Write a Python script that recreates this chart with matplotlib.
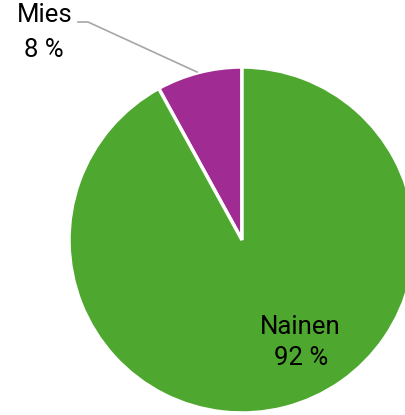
import numpy as np
import matplotlib.pyplot as plt

labels = ["Mies", "Nainen"]
shares = [8, 92]
colors = ["#A02B93", "#4EA72E"]

W, H = 406, 415
cx, cy, r = 242, 240, 173

fig = plt.figure(figsize=(W / 100, H / 100), dpi=100)
ax = fig.add_axes([(cx - r) / W, (H - cy - r) / H, 2 * r / W, 2 * r / H])

wedges, _ = ax.pie(shares, colors=colors, startangle=90, counterclock=True,
                   radius=1, wedgeprops=dict(edgecolor="white", linewidth=2.5))
for w in wedges:
    w.set_clip_on(False)
ax.set_xlim(-1, 1)
ax.set_ylim(-1, 1)
ax.axis("off")


def to_data(px, py):
    return (px - cx) / r, (cy - py) / r


font = dict(family=["Roboto", "DejaVu Sans"], fontsize=18.5, color="#000000")

# Mies label with leader line
lx, ly = zip(*[to_data(78, 22), to_data(88, 22), to_data(197, 72)])
ax.plot(lx, ly, color="#A6A6A6", lw=1.2, clip_on=False)
x, y = to_data(44.5, 22)
ax.text(x, y, labels[0], ha="center", va="baseline", **font)
x, y = to_data(44, 57)
ax.text(x, y, f"{shares[0]} %", ha="center", va="baseline", **font)

# Nainen label
x, y = to_data(300, 334)
ax.text(x, y, labels[1], ha="center", va="baseline", **font)
x, y = to_data(301, 365)
ax.text(x, y, f"{shares[1]} %", ha="center", va="baseline", **font)

fig.savefig("out.png", dpi=100)
